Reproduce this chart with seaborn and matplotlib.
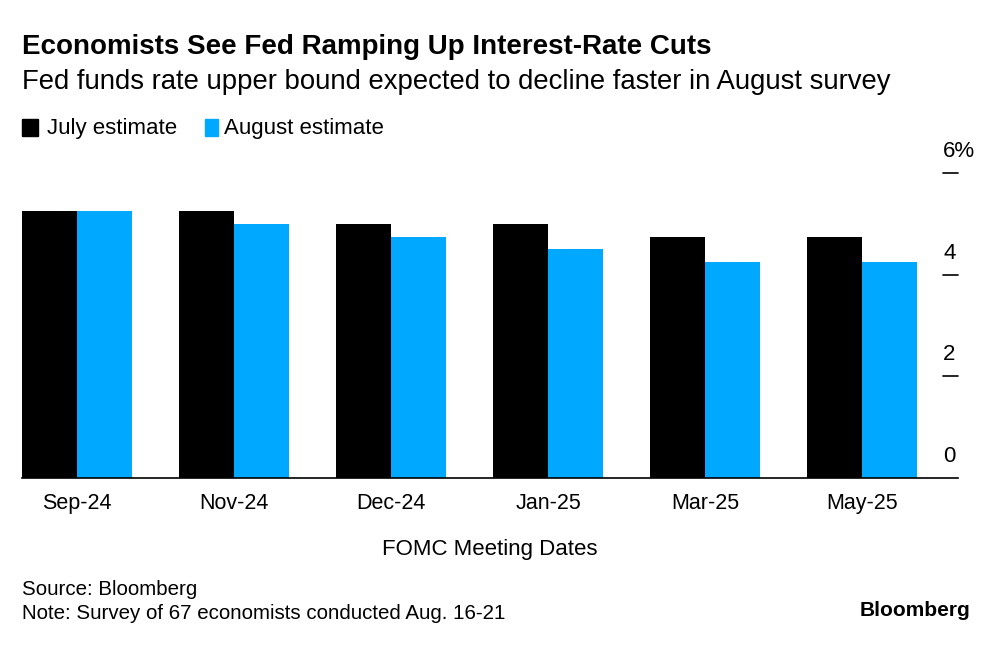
import numpy as np
import pandas as pd
import matplotlib
matplotlib.use('Agg')
import matplotlib.pyplot as plt
import seaborn as sns

# values (upper bound, %)
meetings = ['Sep-24', 'Nov-24', 'Dec-24', 'Jan-25', 'Mar-25', 'May-25']
july = [5.25, 5.25, 5.0, 5.0, 4.75, 4.75]
august = [5.25, 5.0, 4.75, 4.5, 4.25, 4.25]
series = ['July estimate', 'August estimate']
yticks = [0, 2, 4, 6]
ytick_labels = ['0', '2', '4', '6%']

df = pd.DataFrame({
    'meeting': meetings * 2,
    'rate': july + august,
    'estimate': [series[0]] * len(meetings) + [series[1]] * len(meetings),
})

sns.set_style('white')
plt.rcParams['font.family'] = ['Liberation Sans', 'DejaVu Sans']
plt.rcParams['text.color'] = 'black'
plt.rcParams['xtick.color'] = 'black'
plt.rcParams['axes.labelcolor'] = 'black'

fig = plt.figure(figsize=(10, 6.45), dpi=100)
ax = fig.add_axes([0.022, 0.2589, 0.936, 0.4729])

sns.barplot(data=df, x='meeting', y='rate', hue='estimate', order=meetings,
            hue_order=series, palette=['#000000', '#00a8ff'], width=0.7,
            saturation=1, linewidth=0, ax=ax, legend=False)

ax.set_xlim(-0.35, 5.61)
ax.set_ylim(0, 6)
for s in ['top', 'right', 'left']:
    ax.spines[s].set_visible(False)
ax.spines['bottom'].set_color('#000000')
ax.spines['bottom'].set_linewidth(1.2)
ax.set_yticks([])
ax.tick_params(axis='x', length=0, pad=11, labelsize=15.5)
ax.set_xlabel('FOMC Meeting Dates', fontsize=16, labelpad=18)
ax.set_ylabel('')

# y axis: short dashes at right edge with labels sitting above them
for v, lab in zip(yticks, ytick_labels):
    if v > 0:
        ax.plot([0.984, 1.0], [v, v], color='#000000', lw=1.2,
                transform=ax.get_yaxis_transform(), clip_on=False)
    ax.annotate(lab, xy=(0.984, v), xycoords=ax.get_yaxis_transform(),
                xytext=(0, 11), textcoords='offset pixels',
                ha='left', va='bottom', fontsize=16, annotation_clip=False)

fig.text(0.022, 0.917, 'Economists See Fed Ramping Up Interest-Rate Cuts',
         fontsize=20, fontweight='bold', va='baseline')
fig.text(0.022, 0.862, 'Fed funds rate upper bound expected to decline faster in August survey',
         fontsize=19.8, va='baseline')

# legend row
fig.patches.append(plt.Rectangle((0.022, 0.789), 0.016, 0.027, color='#000000',
                                 transform=fig.transFigure, figure=fig))
fig.text(0.047, 0.792, series[0], fontsize=16, va='baseline')
fig.patches.append(plt.Rectangle((0.205, 0.789), 0.013, 0.027, color='#00a8ff',
                                 transform=fig.transFigure, figure=fig))
fig.text(0.224, 0.792, series[1], fontsize=16, va='baseline')

fig.text(0.022, 0.078, 'Source: Bloomberg', fontsize=14.8, va='baseline')
fig.text(0.022, 0.041, 'Note: Survey of 67 economists conducted Aug. 16-21',
         fontsize=14.8, va='baseline')
fig.text(0.970, 0.045, 'Bloomberg', fontsize=15, fontweight='bold',
         ha='right', va='baseline')

fig.savefig('out.png', dpi=100, facecolor='white')
